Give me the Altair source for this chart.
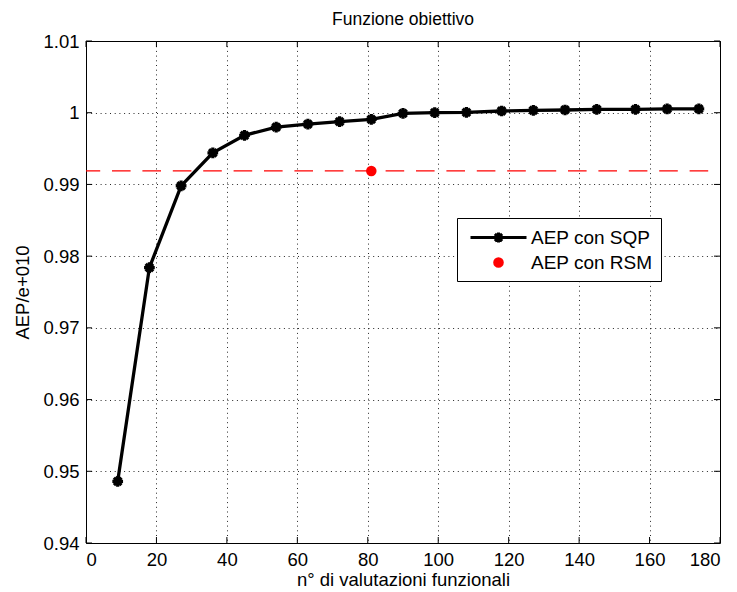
import altair as alt
import pandas as pd

# ---------------- data ----------------
x_sqp = [9, 18, 27, 36, 45, 54, 63, 72, 81, 90, 99, 108, 118, 127, 136, 145, 156, 165, 174]
y_sqp = [0.9486, 0.9784, 0.9898, 0.9944, 0.99685, 0.9980, 0.9984, 0.99877, 0.99907,
         0.99992, 1.0000, 1.00006, 1.00024, 1.00033, 1.00038, 1.00047, 1.00047, 1.00053, 1.00053]
x_rsm = [81]
y_rsm = [0.99188]
rsm_level = [0.99188]
x_ticks = [0, 20, 40, 60, 80, 100, 120, 140, 160, 180]
y_ticks = [0.94, 0.95, 0.96, 0.97, 0.98, 0.99, 1.00, 1.01]
series = ["AEP con SQP", "AEP con RSM"]
series_colors = ["#000000", "#ff0000"]
series_fills = ["transparent", "#ff0000"]

FONT = "Liberation Sans"
FS = 18.5
W, H = 634, 502

sqp = pd.DataFrame({"x": x_sqp, "y": y_sqp})
rsm = pd.DataFrame({"x": x_rsm, "y": y_rsm})
lvl = pd.DataFrame({"y": rsm_level})
xt = pd.DataFrame({"x": x_ticks})
yt = pd.DataFrame({"y": y_ticks})
leg = pd.DataFrame({"serie": series, "x": [x_rsm[0]] * 2, "y": [y_rsm[0]] * 2})

xscale = alt.Scale(domain=[0, 180], nice=False, zero=False)
yscale = alt.Scale(domain=[0.94, 1.01], nice=False, zero=False)

ASTERISK = "M-1,0L1,0M0,-1L0,1M-0.7,-0.7L0.7,0.7M-0.7,0.7L0.7,-0.7"
LEG_SQP = ("M-2.8,0L2.8,0M-0.5,0L0.5,0M0,-0.5L0,0.5"
           "M-0.36,-0.36L0.36,0.36M-0.36,0.36L0.36,-0.36")
LEG_RSM = "M0.38,0A0.38,0.38,0,1,1,-0.38,0A0.38,0.38,0,1,1,0.38,0Z"

x_axis = alt.Axis(values=x_ticks, title="n° di valutazioni funzionali", grid=True,
                  ticks=False, domain=False, labelPadding=7, titlePadding=2)
y_axis = alt.Axis(values=y_ticks, title="AEP/e+010", grid=True, ticks=False, domain=False,
                  labelPadding=7, titlePadding=10, labelExpr="format(datum.value, '.2~f')")

X = alt.X("x:Q", scale=xscale, axis=x_axis)
Y = alt.Y("y:Q", scale=yscale, axis=y_axis)

base_line = alt.Chart(sqp).mark_line(color="black", strokeWidth=3.3).encode(x=X, y=Y)

markers = alt.Chart(sqp).mark_point(
    shape=ASTERISK, size=115, filled=False, color="black", strokeWidth=3.2, opacity=1
).encode(x=X, y=Y)

level = alt.Chart(lvl).mark_rule(
    color="#ff0000", strokeWidth=1.2, strokeDash=[18.6, 11.8], strokeDashOffset=18.6
).encode(y=Y)

rsm_pt = alt.Chart(rsm).mark_circle(size=110, color="#ff0000", opacity=1).encode(x=X, y=Y)

legend = alt.Legend(
    title=None, orient="none", legendX=371, legendY=177,
    strokeColor="black", fillColor="white", padding=8, cornerRadius=0,
    labelFont=FONT, labelFontSize=19, labelColor="black",
    symbolSize=400, symbolStrokeWidth=3, symbolOpacity=1,
    symbolOffset=22, labelOffset=21, rowPadding=2,
)

legend_layer = alt.Chart(leg).mark_point(filled=False, opacity=0).encode(
    x=X, y=Y,
    stroke=alt.Stroke("serie:N", scale=alt.Scale(domain=series, range=series_colors), legend=legend),
    fill=alt.Fill("serie:N", scale=alt.Scale(domain=series, range=series_fills), legend=legend),
    shape=alt.Shape("serie:N", scale=alt.Scale(domain=series, range=[LEG_SQP, LEG_RSM]), legend=legend),
)

# inward tick marks on all four sides
ytl = alt.Chart(yt).mark_rule(color="black", strokeWidth=1).encode(
    y=Y, x=alt.value(0), x2=alt.value(6))
ytr = alt.Chart(yt).mark_rule(color="black", strokeWidth=1).encode(
    y=Y, x=alt.value(W - 6), x2=alt.value(W))
xtb = alt.Chart(xt).mark_rule(color="black", strokeWidth=1).encode(
    x=X, y=alt.value(H), y2=alt.value(H - 6))
xtt = alt.Chart(xt).mark_rule(color="black", strokeWidth=1).encode(
    x=X, y=alt.value(0), y2=alt.value(6))

chart = alt.layer(
    base_line, level, ytl, ytr, xtb, xtt, markers, rsm_pt, legend_layer
).properties(
    width=W, height=H,
    title=alt.TitleParams("Funzione obiettivo", font=FONT, fontSize=17.5, fontWeight="normal",
                          color="black", offset=4, frame="group"),
    autosize=alt.AutoSizeParams(type="none"),
    padding={"left": 78, "top": 33, "right": 9, "bottom": 48},
).configure_view(
    stroke="black", strokeWidth=1
).configure_axis(
    labelFont=FONT, labelFontSize=FS, labelColor="black",
    titleFont=FONT, titleFontSize=FS, titleColor="black", titleFontWeight="normal",
    gridColor="#000000", gridDash=[1, 3.7], gridWidth=1, gridOpacity=0.85,
)

chart.save("out.html", embed_options={"renderer": "svg", "actions": False})
